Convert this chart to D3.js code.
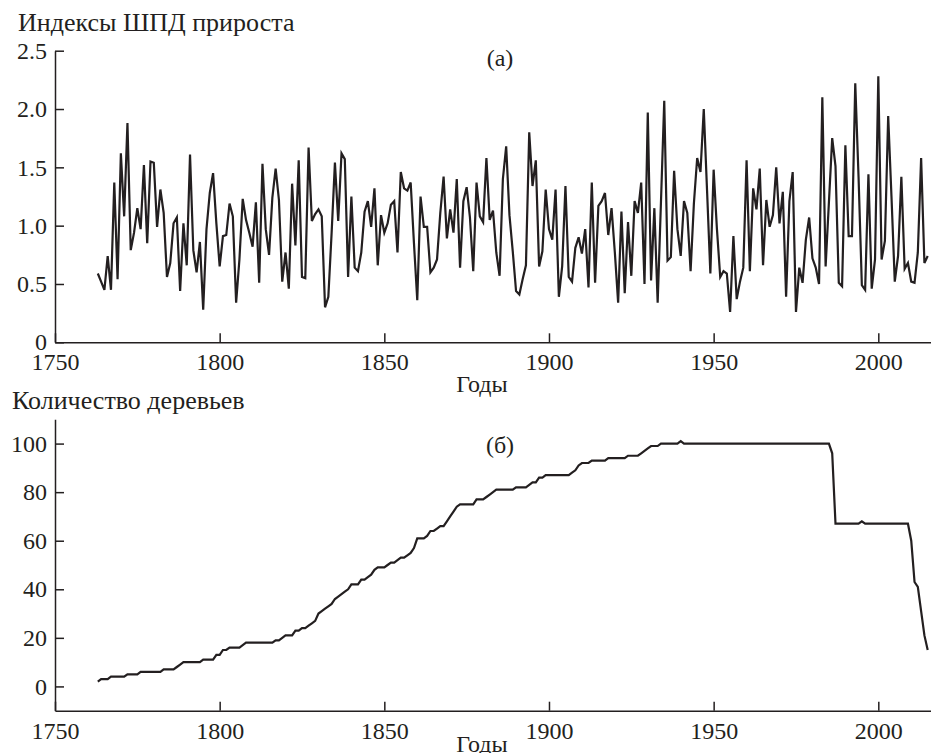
<!DOCTYPE html>
<html>
<head>
<meta charset="utf-8">
<script src="https://cdn.jsdelivr.net/npm/d3@7"></script>
<style>
  body { margin: 0; background: #fff; }
  svg text { font-family: "Liberation Serif", "Tinos", "Times New Roman", "DejaVu Serif", serif; }
  .axis path, .axis line { stroke: #231f20; stroke-width: 1.5; }
  .axis text { font-size: 24px; fill: #231f20; }
  .lbl { font-size: 24px; fill: #231f20; }
  .title { font-size: 26px; fill: #231f20; }
</style>
</head>
<body>
<div id="chart"></div>
<script>
// --- data: (a) ring width indices, (б) number of trees, years 1763–2015
const firstYear = 1763;

const indexValues = [
  0.59, 0.52, 0.45, 0.74, 0.45, 1.37, 0.54, 1.62, 1.08, 1.88,  // 1763-1772
  0.79, 0.94, 1.15, 0.97, 1.52, 0.85, 1.55, 1.54, 0.99, 1.31,  // 1773-1782
  1.11, 0.56, 0.68, 1.02, 1.07, 0.44, 1.02, 0.66, 1.61, 0.79,  // 1783-1792
  0.60, 0.86, 0.28, 0.97, 1.28, 1.45, 1.02, 0.65, 0.91, 0.92,  // 1793-1802
  1.19, 1.08, 0.34, 0.71, 1.23, 1.05, 0.94, 0.82, 1.20, 0.51,  // 1803-1812
  1.53, 0.97, 0.75, 1.24, 1.49, 1.22, 0.52, 0.77, 0.46, 1.36,  // 1813-1822
  0.83, 1.56, 0.56, 0.55, 1.67, 1.04, 1.10, 1.14, 1.08, 0.30,  // 1823-1832
  0.39, 0.94, 1.54, 1.04, 1.62, 1.57, 0.56, 1.25, 0.64, 0.61,  // 1833-1842
  0.77, 1.12, 1.21, 0.99, 1.32, 0.66, 1.09, 0.94, 1.02, 1.18,  // 1843-1852
  1.21, 0.77, 1.46, 1.32, 1.30, 1.37, 0.85, 0.36, 1.25, 0.99,  // 1853-1862
  0.99, 0.60, 0.64, 0.71, 1.11, 1.42, 0.89, 1.14, 0.94, 1.40,  // 1863-1872
  0.64, 1.21, 1.33, 1.07, 0.61, 1.37, 1.08, 1.03, 1.58, 1.05,  // 1873-1882
  1.13, 0.77, 0.57, 1.40, 1.68, 1.09, 0.78, 0.44, 0.41, 0.54,  // 1883-1892
  0.66, 1.80, 1.34, 1.56, 0.65, 0.78, 1.31, 0.97, 0.88, 1.31,  // 1893-1902
  0.39, 0.65, 1.34, 0.56, 0.52, 0.81, 0.90, 0.76, 0.97, 0.47,  // 1903-1912
  1.37, 0.51, 1.17, 1.21, 1.28, 0.92, 1.15, 0.77, 0.34, 1.12,  // 1913-1922
  0.42, 1.03, 0.57, 1.21, 1.11, 1.37, 0.50, 1.97, 0.53, 1.15,  // 1923-1932
  0.34, 1.20, 2.07, 0.70, 0.73, 1.47, 0.97, 0.74, 1.21, 1.11,  // 1933-1942
  0.61, 1.19, 1.58, 1.46, 2.00, 1.30, 0.59, 1.48, 0.97, 0.56,  // 1943-1952
  0.61, 0.59, 0.26, 0.91, 0.37, 0.52, 0.64, 1.56, 0.61, 1.32,  // 1953-1962
  1.14, 1.49, 0.66, 1.22, 0.99, 1.09, 1.50, 1.02, 1.29, 0.39,  // 1963-1972
  1.21, 1.46, 0.26, 0.64, 0.51, 0.88, 1.07, 0.72, 0.64, 0.50,  // 1973-1982
  2.10, 0.65, 1.20, 1.75, 1.51, 0.51, 0.48, 1.69, 0.91, 0.91,  // 1983-1992
  2.22, 1.42, 0.49, 0.45, 1.44, 0.46, 0.71, 2.28, 0.71, 0.87,  // 1993-2002
  1.94, 1.25, 0.52, 0.74, 1.42, 0.63, 0.68, 0.52, 0.51, 0.77,  // 2003-2012
  1.58, 0.68, 0.74                                             // 2013-2015
];

const treeCounts = [
  2, 3, 3, 3, 4, 4, 4, 4, 4, 5,             // 1763-1772
  5, 5, 5, 6, 6, 6, 6, 6, 6, 6,             // 1773-1782
  7, 7, 7, 7, 8, 9, 10, 10, 10, 10,         // 1783-1792
  10, 10, 11, 11, 11, 11, 13, 13, 15, 15,   // 1793-1802
  16, 16, 16, 16, 17, 18, 18, 18, 18, 18,   // 1803-1812
  18, 18, 18, 18, 19, 19, 20, 21, 21, 21,   // 1813-1822
  23, 23, 24, 24, 25, 26, 27, 30, 31, 32,   // 1823-1832
  33, 34, 36, 37, 38, 39, 40, 42, 42, 42,   // 1833-1842
  44, 44, 45, 46, 48, 49, 49, 49, 50, 51,   // 1843-1852
  51, 52, 53, 53, 54, 55, 57, 61, 61, 61,   // 1853-1862
  62, 64, 64, 65, 66, 66, 68, 70, 72, 74,   // 1863-1872
  75, 75, 75, 75, 75, 77, 77, 77, 78, 79,   // 1873-1882
  80, 81, 81, 81, 81, 81, 81, 82, 82, 82,   // 1883-1892
  82, 83, 84, 84, 86, 86, 87, 87, 87, 87,   // 1893-1902
  87, 87, 87, 87, 88, 89, 91, 92, 92, 92,   // 1903-1912
  93, 93, 93, 93, 93, 94, 94, 94, 94, 94,   // 1913-1922
  94, 95, 95, 95, 95, 96, 97, 98, 99, 99,   // 1923-1932
  99, 100, 100, 100, 100, 100, 100, 101, 100, 100, // 1933-1942
  100, 100, 100, 100, 100, 100, 100, 100, 100, 100, // 1943-1952
  100, 100, 100, 100, 100, 100, 100, 100, 100, 100, // 1953-1962
  100, 100, 100, 100, 100, 100, 100, 100, 100, 100, // 1963-1972
  100, 100, 100, 100, 100, 100, 100, 100, 100, 100, // 1973-1982
  100, 100, 100, 96, 67, 67, 67, 67, 67, 67,      // 1983-1992
  67, 67, 68, 67, 67, 67, 67, 67, 67, 67,         // 1993-2002
  67, 67, 67, 67, 67, 67, 67, 60, 43, 41,         // 2003-2012
  31, 21, 15                                      // 2013-2015
];

const xTicks = [1750, 1800, 1850, 1900, 1950, 2000];
const indexTicks = [0, 0.5, 1.0, 1.5, 2.0, 2.5];
const treeTicks = [0, 20, 40, 60, 80, 100];

// --- layout
const W = 931, H = 753;
const left = 55, right = 931;
const serif = '"Liberation Serif", "Tinos", "Times New Roman", "DejaVu Serif", serif';

const svg = d3.select("#chart").append("svg")
  .attr("width", W)
  .attr("height", H)
  .style("display", "block");

const x = d3.scaleLinear().domain([1750, 2016]).range([left, right]);

function panel(opts) {
  const y = d3.scaleLinear().domain(opts.domain).range([opts.bottom, opts.top]);
  const data = opts.values.map((v, i) => ({ year: firstYear + i, v }));

  svg.append("g")
    .attr("class", "axis")
    .attr("transform", `translate(${left},0)`)
    .call(d3.axisLeft(y).tickValues(opts.ticks).tickFormat(opts.fmt)
      .tickSizeInner(-9).tickSizeOuter(0).tickPadding(8))
    .attr("font-family", serif);

  svg.append("g")
    .attr("class", "axis")
    .attr("transform", `translate(0,${opts.bottom})`)
    .call(d3.axisBottom(x).tickValues(xTicks).tickFormat(d3.format("d"))
      .tickSizeInner(-9).tickSizeOuter(0).tickPadding(11))
    .attr("font-family", serif);

  svg.append("path")
    .datum(data)
    .attr("fill", "none")
    .attr("stroke", "#231f20")
    .attr("stroke-width", 2.2)
    .attr("d", d3.line().x(d => x(d.year)).y(d => y(d.v)));

  svg.append("text").attr("class", "title")
    .attr("font-family", serif)
    .attr("x", opts.titleX).attr("y", opts.titleY)
    .text(opts.title);

  svg.append("text").attr("class", "lbl")
    .attr("font-family", serif)
    .attr("x", 500).attr("y", opts.tagY)
    .attr("text-anchor", "middle")
    .text(opts.tag);

  svg.append("text").attr("class", "lbl")
    .attr("font-family", serif)
    .attr("x", 482).attr("y", opts.xLabelY)
    .attr("text-anchor", "middle")
    .text("Годы");
}

panel({
  values: indexValues, domain: [0, 2.5], top: 50.7, bottom: 342.3,
  ticks: indexTicks, fmt: d => d === 0 ? "0" : d3.format(".1f")(d),
  title: "Индексы ШПД прироста", titleX: 18, titleY: 31,
  tag: "(a)", tagY: 66, xLabelY: 392
});

panel({
  values: treeCounts, domain: [-10, 110], top: 419.3, bottom: 710.7,
  ticks: treeTicks, fmt: d3.format("d"),
  title: "Количество деревьев", titleX: 12, titleY: 409,
  tag: "(б)", tagY: 453, xLabelY: 752
});
</script>
</body>
</html>
